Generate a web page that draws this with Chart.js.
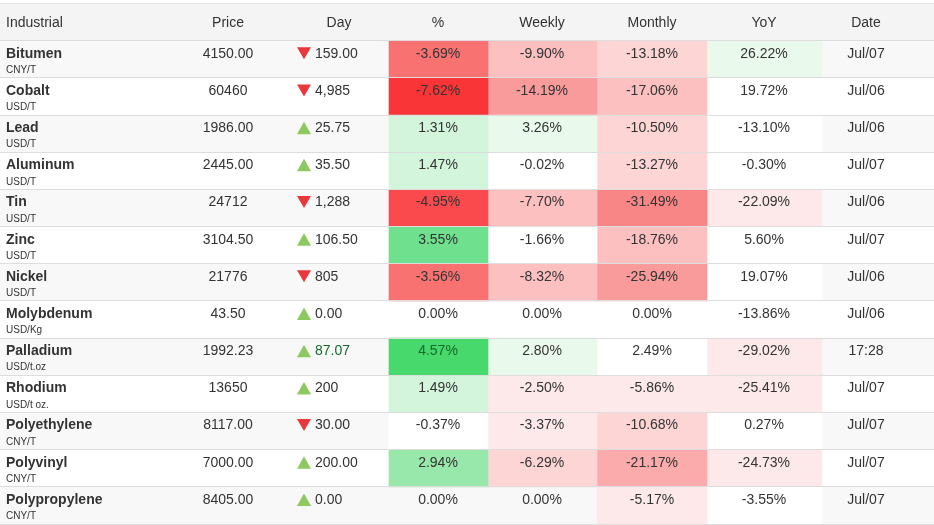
<!DOCTYPE html>
<html>
<head>
<meta charset="utf-8">
<script src="https://cdn.jsdelivr.net/npm/chart.js@4.4.1/dist/chart.umd.min.js"></script>
<style>
  html, body { margin: 0; padding: 0; background: #fff; }
  canvas { display: block; }
</style>
</head>
<body>
<canvas id="tablaChart" width="934" height="525"></canvas>
<script>
// Datos de la tabla
const headers = ['Industrial', 'Price', 'Day', '%', 'Weekly', 'Monthly', 'YoY', 'Date'];
const names = ['Bitumen', 'Cobalt', 'Lead', 'Aluminum', 'Tin', 'Zinc', 'Nickel', 'Molybdenum',
               'Palladium', 'Rhodium', 'Polyethylene', 'Polyvinyl', 'Polypropylene'];
const units = ['CNY/T', 'USD/T', 'USD/T', 'USD/T', 'USD/T', 'USD/T', 'USD/T', 'USD/Kg',
               'USD/t.oz', 'USD/t oz.', 'CNY/T', 'CNY/T', 'CNY/T'];
const prices = ['4150.00', '60460', '1986.00', '2445.00', '24712', '3104.50', '21776', '43.50',
                '1992.23', '13650', '8117.00', '7000.00', '8405.00'];
const dayChange = ['-159.00', '-4,985', '25.75', '35.50', '-1,288', '106.50', '-805', '0.00',
                   '87.07', '200', '-30.00', '200.00', '0.00'];
const pctChange = [-3.69, -7.62, 1.31, 1.47, -4.95, 3.55, -3.56, 0.00, 4.57, 1.49, -0.37, 2.94, 0.00];
const weekly = [-9.90, -14.19, 3.26, -0.02, -7.70, -1.66, -8.32, 0.00, 2.80, -2.50, -3.37, -6.29, 0.00];
const monthly = [-13.18, -17.06, -10.50, -13.27, -31.49, -18.76, -25.94, 0.00, 2.49, -5.86, -10.68, -21.17, -5.17];
const yoy = [26.22, 19.72, -13.10, -0.30, -22.09, 5.60, 19.07, -13.86, -29.02, -25.41, 0.27, -24.73, -3.55];
const dates = ['Jul/07', 'Jul/06', 'Jul/06', 'Jul/07', 'Jul/06', 'Jul/07', 'Jul/06', 'Jul/06',
               '17:28', 'Jul/07', 'Jul/07', 'Jul/07', 'Jul/07'];
const liveItem = 'Palladium';

// Diseño: bordes de columnas y posiciones del texto
const colEdges = [0, 167, 289, 389, 488, 597, 707, 822, 934];
const headerX = [6, 228, 339, 438, 542, 652, 764, 866];
const heatSteps = [0.5, 2.5, 5, 20];
const reds = ['#fde9e9', '#fdd5d5', '#fcc0c0', '#fbabab', '#fa9b9b', '#f98686', '#f87272', '#f95e60', '#fa4a4d', '#fa3538'];
const greens = ['#e9f9ec', '#d3f5dc', '#bff0cc', '#abecbb', '#98e8ab', '#84e49c', '#6fe08d', '#5bdc7c', '#47d96c', '#33d55b'];
const FONT = '"Liberation Sans", Arial, sans-serif';

function heatColor(v, step) {
    if (v === 0) return 'rgba(0,0,0,0)';
    const lvl = Math.min(10, Math.floor(Math.abs(v) / step));
    if (lvl === 0) return '#ffffff';
    return (v > 0 ? greens : reds)[lvl - 1];
}

const heatCols = [pctChange, weekly, monthly, yoy];

const datasets = heatCols.map(function (vals, k) {
    return {
        label: headers[k + 3],
        data: vals.map(() => [colEdges[k + 3], colEdges[k + 4]]),
        backgroundColor: vals.map(v => heatColor(v, heatSteps[k])),
        grouped: false,
        barPercentage: 1,
        categoryPercentage: 1,
        borderWidth: 0,
        order: 0
    };
});

// Filas alternas (fondo gris claro)
datasets.push({
    label: 'rows',
    data: names.map(() => [colEdges[0], colEdges[colEdges.length - 1]]),
    backgroundColor: names.map((n, i) => i % 2 === 0 ? '#f8f8f8' : '#ffffff'),
    grouped: false,
    barPercentage: 1,
    categoryPercentage: 1,
    borderWidth: 0,
    order: 1
});

const tablePlugin = {
    id: 'tableText',
    beforeDraw(chart) {
        const ctx = chart.ctx;
        const top = chart.chartArea.top;
        ctx.save();
        ctx.fillStyle = '#f4f4f4';
        ctx.fillRect(0, 3, chart.width, top - 3);
        ctx.strokeStyle = '#e2e2e2';
        ctx.lineWidth = 1;
        ctx.beginPath();
        ctx.moveTo(0, 3.5);
        ctx.lineTo(chart.width, 3.5);
        ctx.stroke();
        ctx.restore();
    },
    afterDraw(chart) {
        const ctx = chart.ctx;
        const yScale = chart.scales.y;
        const headY = (3 + chart.chartArea.top) / 2 + 1;
        ctx.save();
        ctx.textBaseline = 'middle';
        ctx.fillStyle = '#333';
        ctx.font = '14px ' + FONT;
        headers.forEach(function (h, c) {
            ctx.textAlign = c === 0 ? 'left' : 'center';
            ctx.fillText(h, headerX[c], headY);
        });

        names.forEach(function (name, i) {
            const cy = yScale.getPixelForValue(i);
            const vy = cy - 5.5;
            const live = name === liveItem;

            ctx.fillStyle = '#333';
            ctx.textAlign = 'left';
            ctx.font = 'bold 14px ' + FONT;
            ctx.fillText(name, 6, vy);
            ctx.font = '10px ' + FONT;
            ctx.fillText(units[i], 6, cy + 11);

            ctx.font = '14px ' + FONT;
            ctx.textAlign = 'center';
            ctx.fillText(prices[i], headerX[1], vy);

            // flecha del cambio diario
            const down = dayChange[i].charAt(0) === '-';
            ctx.fillStyle = down ? '#e8383b' : '#8dc95f';
            ctx.beginPath();
            if (down) {
                ctx.moveTo(297, vy - 6.5);
                ctx.lineTo(311, vy - 6.5);
                ctx.lineTo(304, vy + 5.5);
            } else {
                ctx.moveTo(297, vy + 6);
                ctx.lineTo(311, vy + 6);
                ctx.lineTo(304, vy - 6.5);
            }
            ctx.closePath();
            ctx.fill();

            ctx.fillStyle = live ? '#16692d' : '#333';
            ctx.textAlign = 'left';
            ctx.fillText(dayChange[i].replace('-', ''), 315, vy);

            ctx.textAlign = 'center';
            heatCols.forEach(function (vals, k) {
                ctx.fillStyle = (live && k === 0) ? '#16692d' : '#333';
                ctx.fillText(vals[i].toFixed(2) + '%', headerX[k + 3], vy);
            });
            ctx.fillStyle = '#333';
            ctx.fillText(dates[i], headerX[7], vy);
        });
        ctx.restore();
    }
};

const tablaCtx = document.getElementById('tablaChart').getContext('2d');
const tablaChart = new Chart(tablaCtx, {
    type: 'bar',
    data: {
        labels: names,
        datasets: datasets
    },
    options: {
        indexAxis: 'y',
        responsive: false,
        animation: false,
        layout: { padding: { top: 40.7, bottom: 1, left: 0, right: 0 } },
        plugins: {
            legend: { display: false },
            tooltip: { enabled: false }
        },
        scales: {
            x: {
                type: 'linear',
                min: colEdges[0],
                max: colEdges[colEdges.length - 1],
                display: false
            },
            y: {
                type: 'category',
                offset: true,
                border: { display: false },
                grid: { offset: true, color: '#dddddd', lineWidth: 1, drawTicks: false, z: 1 },
                ticks: { display: false }
            }
        }
    },
    plugins: [tablePlugin]
});
</script>
</body>
</html>
